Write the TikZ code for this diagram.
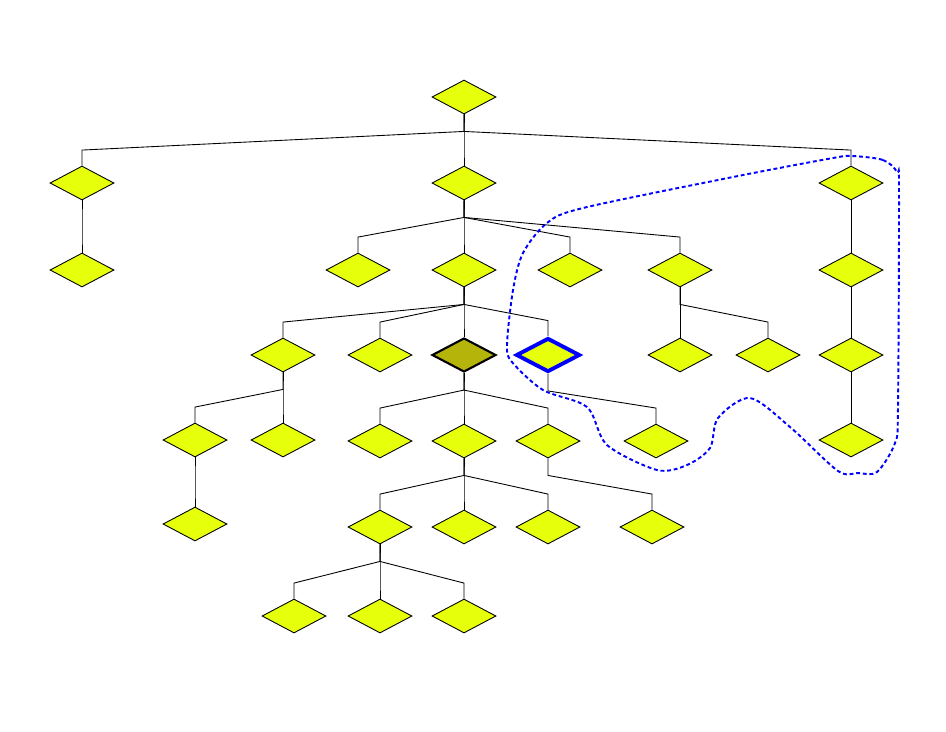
\documentclass[tikz,border=0pt]{standalone}
\usetikzlibrary{shapes.geometric}
\definecolor{jaune}{RGB}{230,255,10}
\definecolor{olivefonce}{RGB}{180,180,10}

\begin{document}
\begin{tikzpicture}[x=0.02cm, y=-0.02cm]
\tikzset{losange/.style={draw, diamond, fill=jaune, inner sep=0pt, minimum width=1.28cm, minimum height=0.68cm, line width=0.5pt},
  lien/.style={line width=0.5pt, to path={(\tikztostart.south) -- ([yshift=-0.34cm]\tikztostart.south) -- ([yshift=0.31cm]\tikztotarget.north) -- (\tikztotarget.north)}}}
\useasboundingbox (0,0) rectangle (946,731);
% rang 0 et 1
\node[losange] (R) at (464,97) {};
\node[losange] (A) at (82,183) {};
\node[losange] (B) at (464,183) {};
\node[losange] (C) at (851,183) {};
% rang 2
\node[losange] (A1) at (82,270) {};
\node[losange] (B1) at (358,270) {};
\node[losange] (B2) at (464,270) {};
\node[losange] (B3) at (570,270) {};
\node[losange] (B4) at (680,270) {};
\node[losange] (C1) at (851,270) {};
% rang 3
\node[losange] (D1) at (283,355) {};
\node[losange] (D2) at (380,355) {};
\node[losange, fill=olivefonce, line width=1.2pt] (D3) at (464,355) {};
\node[losange, draw=blue, line width=2.2pt] (D4) at (548,355) {};
\node[losange] (E1) at (680,355) {};
\node[losange] (E2) at (768,355) {};
\node[losange] (C2) at (851,355) {};
% rang 4
\node[losange] (F1) at (195,440) {};
\node[losange] (F2) at (283,440) {};
\node[losange] (G1) at (380,441) {};
\node[losange] (G2) at (464,441) {};
\node[losange] (G3) at (548,441) {};
\node[losange] (H1) at (656,441) {};
\node[losange] (C3) at (851,440) {};
% rang 5 et 6
\node[losange] (F3) at (195,524) {};
\node[losange] (I1) at (380,527) {};
\node[losange] (I2) at (464,527) {};
\node[losange] (I3) at (548,527) {};
\node[losange] (J1) at (652,527) {};
\node[losange] (K1) at (294,616) {};
\node[losange] (K2) at (380,616) {};
\node[losange] (K3) at (464,616) {};
\foreach \p/\c in {R/A, R/B, R/C, A/A1, C/C1, C1/C2, C2/C3,
    B/B1, B/B2, B/B3, B/B4, B2/D1, B2/D2, B2/D3, B2/D4, B4/E1, B4/E2,
    D1/F1, D1/F2, F1/F3, D3/G1, D3/G2, D3/G3, D4/H1,
    G2/I1, G2/I2, G2/I3, G3/J1, I1/K1, I1/K2, I1/K3}
  \draw[lien] (\p) to (\c);
% contour
\draw[blue, line width=1.1pt, dash pattern=on 2.2pt off 1.6pt] plot[smooth cycle, tension=0.5] coordinates {
  (852,156) (883,160) (897,172) (899,190) (898,407) (895,443) (877,472)
  (858,473) (838,471) (790,427) (750,398) (718,418) (710,448) (687,465)
  (657,470) (607,445) (587,407) (543,390) (512,362) (507,345) (513,290)
  (523,253) (547,223) (583,208) (733,177) (833,158)};
\end{tikzpicture}
\end{document}
